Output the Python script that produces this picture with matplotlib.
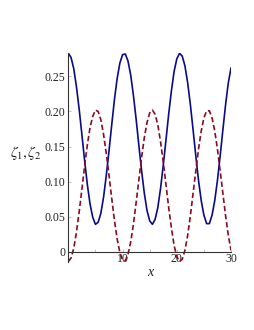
import matplotlib
matplotlib.use("Agg")
import matplotlib.pyplot as plt

x_vals = [i * 0.5 for i in range(61)]

zeta1 = [0.283, 0.277, 0.261, 0.235, 0.203, 0.167, 0.130, 0.096, 0.068, 0.049,
         0.039, 0.042, 0.055, 0.078, 0.109, 0.144, 0.181, 0.217, 0.247, 0.269,
         0.281, 0.282, 0.272, 0.252, 0.223, 0.189, 0.152, 0.116, 0.084, 0.059,
         0.044, 0.039, 0.046, 0.063, 0.090, 0.123, 0.159, 0.196, 0.229, 0.257,
         0.275, 0.283, 0.279, 0.265, 0.241, 0.210, 0.174, 0.137, 0.102, 0.073,
         0.052, 0.040, 0.040, 0.052, 0.073, 0.102, 0.137, 0.174, 0.210, 0.241,
         0.262]

zeta2 = [-0.014, -0.009, 0.005, 0.028, 0.057, 0.089, 0.122, 0.152, 0.177, 0.193,
         0.202, 0.200, 0.188, 0.167, 0.140, 0.109, 0.076, 0.045, 0.018, -0.001,
         -0.012, -0.013, -0.004, 0.014, 0.039, 0.070, 0.102, 0.134, 0.162, 0.184,
         0.198, 0.202, 0.196, 0.181, 0.157, 0.128, 0.096, 0.063, 0.034, 0.009,
         -0.007, -0.014, -0.011, 0.002, 0.023, 0.051, 0.083, 0.115, 0.146, 0.172,
         0.191, 0.201, 0.201, 0.191, 0.172, 0.146, 0.115, 0.083, 0.051, 0.023,
         0.002]

x_ticks = [0, 10, 20, 30]
x_ticklabels = ["", "10", "20", "30"]
y_ticks = [0, 0.05, 0.10, 0.15, 0.20, 0.25]
y_ticklabels = ["0", "0.05", "0.10", "0.15", "0.20", "0.25"]

plt.rcParams['font.family'] = ['Liberation Serif', 'DejaVu Serif']
plt.rcParams['mathtext.fontset'] = 'stix'

fig = plt.figure(figsize=(2.55, 3.30), dpi=100)
ax = fig.add_axes([0.268, 0.207, 0.638, 0.6315])

ax.plot(x_vals, zeta1, color='#0a0a8a', lw=1.2)
ax.plot(x_vals, zeta2, color='#8c0a1e', lw=1.2, dashes=(3.2, 1.7))

ax.set_xlim(0, 30)
ax.set_ylim(-0.0143, 0.283)

ax.spines['top'].set_visible(False)
ax.spines['right'].set_visible(False)
ax.spines['bottom'].set_position(('data', 0))
ax.spines['left'].set_position(('data', 0))
for s in ('bottom', 'left'):
    ax.spines[s].set_color('#333333')
    ax.spines[s].set_linewidth(0.8)

ax.set_xticks(x_ticks)
ax.set_xticklabels(x_ticklabels)
ax.set_yticks(y_ticks)
ax.set_yticklabels(y_ticklabels)
ax.set_xticks([5, 15, 25], minor=True)
ax.tick_params(axis='both', which='both', direction='in', length=2, width=0.5,
               color='#aaaaaa', labelsize=8.5, labelcolor='#222222', pad=2)
ax.tick_params(axis='x', pad=1)

fig.text(150 / 255, 1 - 272 / 330, 'x', fontsize=10, style='italic',
         ha='center', va='center', color='#222222')
fig.text(26 / 255, 1 - 153 / 330, r'$\zeta_1,\!\zeta_2$', fontsize=11,
         ha='center', va='center', color='#222222')

fig.savefig('out.png', dpi=100)
